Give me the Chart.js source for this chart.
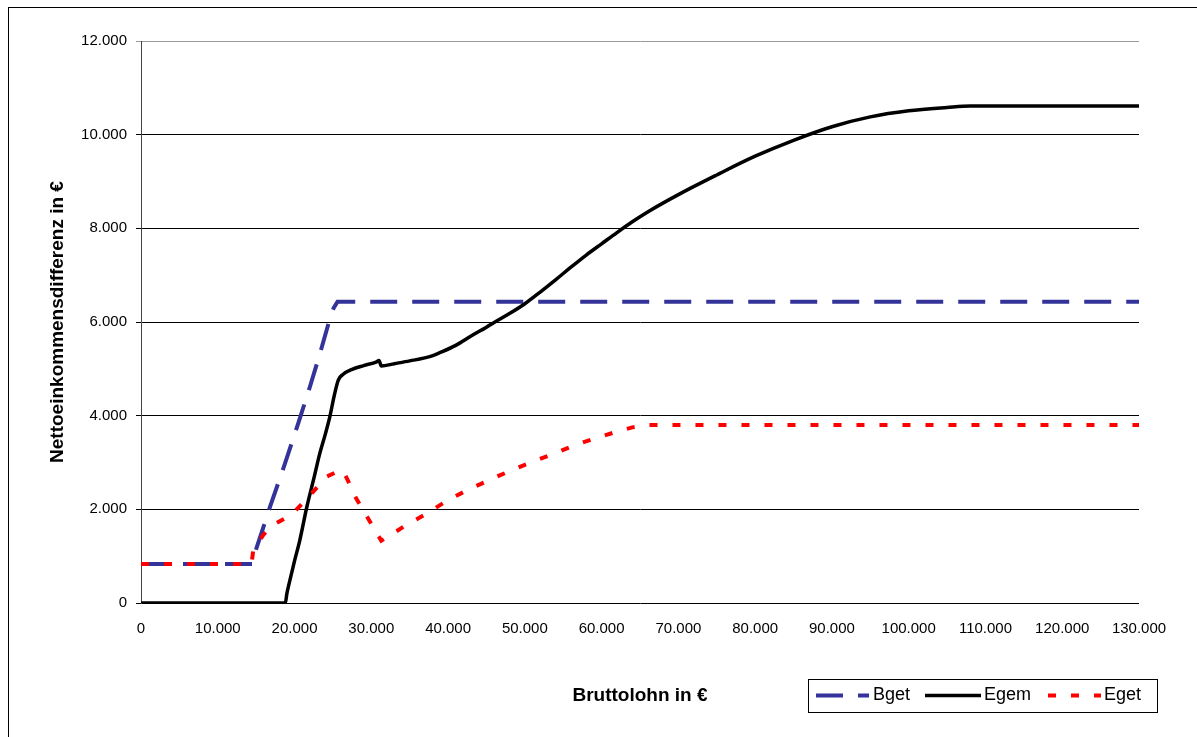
<!DOCTYPE html>
<html>
<head>
<meta charset="utf-8">
<script src="https://cdn.jsdelivr.net/npm/chart.js@4/dist/chart.umd.min.js"></script>
<style>
  body { margin: 0; background: #fff; overflow: hidden; }
  #wrap { position: relative; width: 1197px; height: 737px; }
  #frame { position: absolute; left: 8px; top: 7px; width: 1200px; height: 800px;
           border: 1px solid #000; pointer-events: none; }
</style>
</head>
<body>
<div id="wrap">
  <canvas id="chart"></canvas>
  <div id="frame"></div>
</div>
<script>
// Bruttolohn (x) / Nettoeinkommensdifferenz (y)
const bgetX = [0, 14500, 15000, 16800, 18760, 20490, 22010, 23320, 24620, 25100, 25600, 130000];
const bgetY = [835, 835, 1150, 2050, 2980, 3840, 4620, 5330, 6080, 6300, 6434, 6434];

const egemX = [0, 18800, 19000, 19400, 20000, 20700, 21600, 22500, 23300, 24000, 24600, 25200, 25700,
  26300, 27500, 29000, 30700, 31000, 31300, 33000, 35000, 37600, 39000, 41000, 43000, 45000, 46000,
  48000, 50000, 52000, 54000, 56000, 58000, 60000, 62000, 64000, 66000, 70000, 75000, 80000, 85000,
  90000, 95000, 100000, 105000, 108000, 130000];
const egemY = [0, 0, 200, 490, 900, 1350, 2050, 2650, 3200, 3600, 3980, 4450, 4760,
  4880, 4990, 5070, 5150, 5180, 5060, 5110, 5170, 5260, 5350, 5500, 5700, 5890, 5990,
  6180, 6390, 6640, 6900, 7170, 7430, 7670, 7910, 8140, 8350, 8720, 9140, 9540, 9880,
  10170, 10380, 10510, 10580, 10610, 10610];

const egetX = [0, 14400, 14600, 15900, 17000, 18700, 20000, 21600, 23000, 24200, 25500, 26300, 27000,
  27900, 29600, 31300, 32500, 34200, 37200, 40000, 43000, 46800, 50000, 53300, 56500, 59800, 62000,
  64000, 66000, 130000];
const egetY = [835, 835, 1100, 1450, 1650, 1800, 1950, 2230, 2480, 2700, 2800, 2830, 2600,
  2270, 1800, 1330, 1450, 1630, 1910, 2200, 2450, 2730, 2950, 3160, 3370, 3550, 3660,
  3750, 3800, 3800];

const xTicks = { min: 0, max: 130000, step: 10000 };
const yTicks = { min: 0, max: 12000, step: 2000 };

const FONT = "'Liberation Sans', Arial, sans-serif";

function pts(xs, ys) {
  return xs.map((x, i) => ({ x: x, y: ys[i] }));
}

function fmt(v) {
  return String(v).replace(/\B(?=(\d{3})+(?!\d))/g, '.');
}

// legend in a box at the bottom right, like the original
const boxLegend = {
  id: 'boxLegend',
  afterDraw(chart) {
    const ctx = chart.ctx;
    const items = [
      { ds: 0, x1: 816, x2: 869, tx: 873 },
      { ds: 1, x1: 925, x2: 981, tx: 984 },
      { ds: 2, x1: 1048, x2: 1101, tx: 1104 },
    ];
    const y = 695.5;
    ctx.save();
    ctx.strokeStyle = '#000';
    ctx.lineWidth = 1;
    ctx.strokeRect(808.5, 679.5, 349, 33);
    ctx.font = '18px ' + FONT;
    ctx.textBaseline = 'middle';
    ctx.fillStyle = '#000';
    items.forEach(it => {
      const ds = chart.data.datasets[it.ds];
      ctx.beginPath();
      ctx.strokeStyle = ds.borderColor;
      ctx.lineWidth = ds.borderWidth;
      ctx.setLineDash(ds.borderDash || []);
      ctx.moveTo(it.x1, y);
      ctx.lineTo(it.x2, y);
      ctx.stroke();
      ctx.setLineDash([]);
      ctx.fillText(ds.label, it.tx, y);
    });
    ctx.restore();
  }
};

new Chart(document.getElementById('chart'), {
  type: 'line',
  data: {
    datasets: [
      {
        label: 'Bget',
        data: pts(bgetX, bgetY),
        borderColor: '#333399',
        borderWidth: 4,
        borderDash: [27, 15],
        order: 3,
      },
      {
        label: 'Egem',
        data: pts(egemX, egemY),
        borderColor: '#000000',
        borderWidth: 3.5,
        cubicInterpolationMode: 'monotone',
        order: 2,
      },
      {
        label: 'Eget',
        data: pts(egetX, egetY),
        borderColor: '#ff0000',
        borderWidth: 4,
        borderDash: [8, 15],
        order: 1,
      },
    ],
  },
  plugins: [boxLegend],
  options: {
    responsive: true,
    maintainAspectRatio: false,
    animation: false,
    elements: { point: { radius: 0 }, line: { tension: 0, fill: false } },
    layout: { padding: { left: 0, top: 41, right: 58, bottom: 0 } },
    plugins: {
      legend: { display: false },
      tooltip: { enabled: false },
    },
    scales: {
      x: {
        type: 'linear',
        min: xTicks.min,
        max: xTicks.max,
        afterFit: s => { s.height = 134; },
        grid: { display: false, drawTicks: false },
        border: { display: false },
        ticks: {
          stepSize: xTicks.step,
          padding: 17,
          color: '#000',
          font: { family: FONT, size: 15 },
          maxRotation: 0,
          callback: v => fmt(v),
        },
        title: {
          display: true,
          text: 'Bruttolohn in €',
          color: '#000',
          font: { family: FONT, size: 19, weight: 'bold' },
          padding: { top: 0, bottom: 30 },
        },
      },
      y: {
        min: yTicks.min,
        max: yTicks.max,
        afterFit: s => { s.width = 141; },
        grid: {
          color: c => (c.tick && c.tick.value === yTicks.max ? '#999' : '#000'),
          lineWidth: 1,
          tickLength: 5,
        },
        border: { display: true, color: '#444', width: 1 },
        ticks: {
          stepSize: yTicks.step,
          padding: 9,
          color: '#000',
          font: { family: FONT, size: 15 },
          callback: v => fmt(v),
        },
        title: {
          display: true,
          text: 'Nettoeinkommensdifferenz in €',
          color: '#000',
          font: { family: FONT, size: 19, weight: 'bold' },
          padding: { top: 46, bottom: 0 },
        },
      },
    },
  },
});
</script>
</body>
</html>
